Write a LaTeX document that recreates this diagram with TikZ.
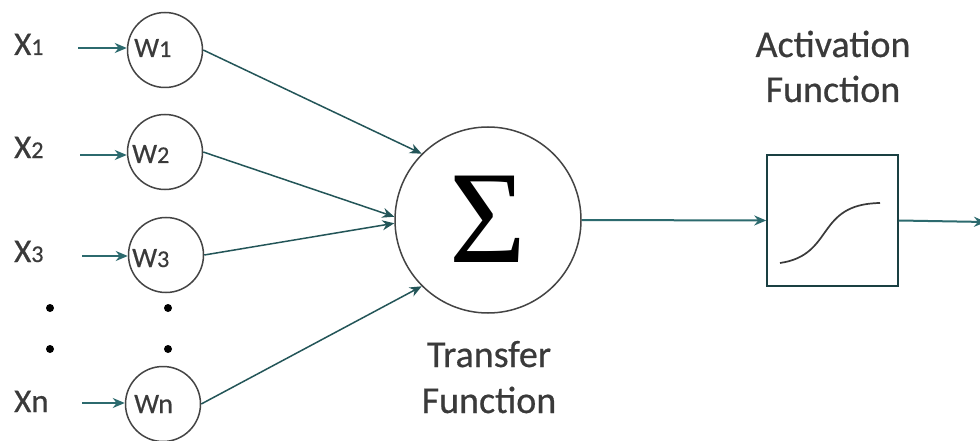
\documentclass[tikz,border=0pt]{standalone}
\usepackage{fontspec}
\setmainfont{Carlito}
\newfontfamily\lblfont{Carlito}[FakeBold=0.5]
\newfontfamily\sigmafont{Liberation Serif}
\usetikzlibrary{arrows.meta}
\definecolor{wire}{HTML}{2C6A6E}
\definecolor{rim}{HTML}{444444}
\definecolor{ink}{HTML}{3A3A3A}
\tikzset{
  weight/.style={circle, draw=rim, line width=1.5pt, minimum size=75pt, inner sep=0pt},
  feed/.style={draw=wire, line width=2pt, -{Stealth[length=12pt,width=10pt]}},
  link/.style={draw=wire!80!black, line width=1.5pt, -{Stealth[length=12pt,width=10pt]}},
  xlabel/.style={anchor=base west, inner sep=0pt, text=ink, font=\lblfont\fontsize{33}{38}\selectfont},
  wlabel/.style={anchor=base west, inner sep=0pt, text=ink, font=\lblfont\fontsize{28}{32}\selectfont},
  caption/.style={anchor=base, inner sep=0pt, text=ink, font=\lblfont\fontsize{38}{44}\selectfont},
  dot/.style={circle, fill=black, inner sep=0pt, minimum size=8pt}
}
\newcommand{\smalldigit}[1]{{\fontsize{24}{27}\selectfont #1}}
\begin{document}
\begin{tikzpicture}[x=1pt, y=-1pt]
  \useasboundingbox (0,0) rectangle (980,441);
  \fill[white] (0,0) rectangle (980,441);

  % weight circles
  \node[weight] (w1) at (165,50) {};
  \node[weight] (w2) at (165,152) {};
  \node[weight] (w3) at (166,255) {};
  \node[weight] (wn) at (163,404) {};

  \node[wlabel] (lw1) at (134,57) {W\smalldigit{1}};
  \node[wlabel] (lw2) at (132,163) {W\smalldigit{2}};
  \node[wlabel] (lw3) at (132,267) {W\smalldigit{3}};
  \node[wlabel] (lwn) at (134,413) {Wn};

  % inputs
  \node[xlabel] (x1) at (14,55) {X\smalldigit{1}};
  \node[xlabel] (x2) at (14,158) {X\smalldigit{2}};
  \node[xlabel] (x3) at (14,262) {X\smalldigit{3}};
  \node[xlabel] (xn) at (14,412) {Xn};

  \coordinate (a1) at (78,48);
  \coordinate (a2) at (80,155);
  \coordinate (a3) at (82,256);
  \coordinate (an) at (82,403);
  \draw[feed] (a1) -- (w1.west |- a1);
  \draw[feed] (a2) -- (w2.west |- a2);
  \draw[feed] (a3) -- (w3.west |- a3);
  \draw[feed] (an) -- (wn.west |- an);

  % ellipsis dots
  \node[dot] (d1) at (50,308) {};
  \node[dot] (d2) at (50,349) {};
  \node[dot] (d3) at (168,308) {};
  \node[dot] (d4) at (168,349) {};

  % summation node
  \node[circle, draw=rim, line width=1.5pt, minimum size=186pt, inner sep=0pt] (sigma) at (488,220) {};
  \node[inner sep=0pt, text=black, font=\sigmafont\fontsize{132}{136}\selectfont] (sym) at (488,219) {Σ};

  \draw[link] (w1.east) -- (sigma.135);
  \draw[link] (w2.east) -- (sigma.178);
  \draw[link] (w3.east) -- (sigma.182);
  \draw[link] (wn.east) -- (sigma.225);

  \node[caption] (tf1) at (489,367) {Transfer};
  \node[caption] (tf2) at (489,413) {Function};

  % activation block
  \node[draw=wire!60!black, line width=1.5pt, minimum size=131pt, inner sep=0pt] (act) at (832.5,220.5) {};
  \draw[ink, line width=1.7pt] (780,263) .. controls (835,255) and (815,204) .. (880,203);

  \node[caption] (af1) at (833,57) {Activation};
  \node[caption] (af2) at (833,102) {Function};

  \draw[feed] (sigma.east) -- (act.west);
  \coordinate (out) at (986,222);
  \draw[feed] (act.east) -- (out);
\end{tikzpicture}
\end{document}
